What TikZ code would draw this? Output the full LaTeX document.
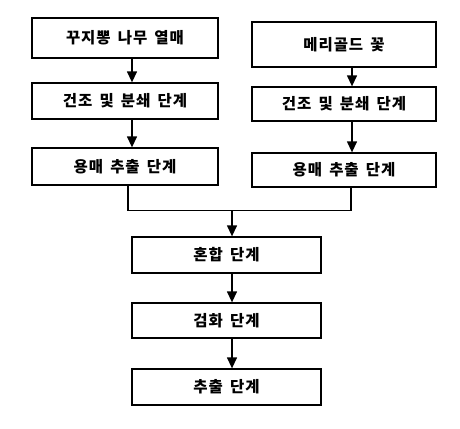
\documentclass[tikz,border=0pt]{standalone}
\usepackage{fontspec}
\newfontfamily\kr[LetterSpace=6,WordSpace=1.6]{Noto Sans CJK KR}
\usetikzlibrary{arrows.meta}
\begin{document}
\begin{tikzpicture}[x=1pt,y=-1pt,
  box/.style={draw=black,line width=1.3pt,fill=white,inner sep=0pt,font=\kr\bfseries\fontsize{15.5}{17}\selectfont},
  arr/.style={line width=1.3pt,-{Triangle[length=11pt,width=10pt]}},
  ln/.style={line width=1.3pt}]
\useasboundingbox[fill=white] (0,0) rectangle (460,428);
\node[box,minimum width=186pt,minimum height=40pt] (a1) at (125,38) {꾸지뽕 나무 열매};
\node[box,minimum width=186pt,minimum height=36pt] (a2) at (125,101) {건조 및 분쇄 단계};
\node[box,minimum width=186pt,minimum height=37pt] (a3) at (125,166.5) {용매 추출 단계};
\node[box,minimum width=184pt,minimum height=45pt] (b1) at (344,44.5) {메리골드 꽃};
\node[box,minimum width=184pt,minimum height=34pt] (b2) at (344,104) {건조 및 분쇄 단계};
\node[box,minimum width=184pt,minimum height=34pt] (b3) at (344,170) {용매 추출 단계};
\node[box,minimum width=189pt,minimum height=36pt] (c1) at (226.5,255) {혼합 단계};
\node[box,minimum width=189pt,minimum height=35pt] (c2) at (226.5,320.5) {검화 단계};
\node[box,minimum width=189pt,minimum height=36pt] (c3) at (226.5,387) {추출 단계};
\coordinate (jl) at (128,210.5);
\coordinate (jr) at (351,210.5);
\coordinate (jm) at (232,210.5);
\draw[arr] (a1.south -| 132,0) -- (a2.north -| 132,0);
\draw[arr] (a2.south -| 132,0) -- (a3.north -| 132,0);
\draw[arr] (b1.south -| 352,0) -- (b2.north -| 352,0);
\draw[arr] (b2.south -| 352,0) -- (b3.north -| 352,0);
\draw[ln] (a3.south -| jl) -- (jl) -- (jr) -- (b3.south -| jr);
\draw[arr] (jm) -- (c1.north -| jm);
\draw[arr] (c1.south -| jm) -- (c2.north -| jm);
\draw[arr] (c2.south -| jm) -- (c3.north -| jm);
\end{tikzpicture}
\end{document}
